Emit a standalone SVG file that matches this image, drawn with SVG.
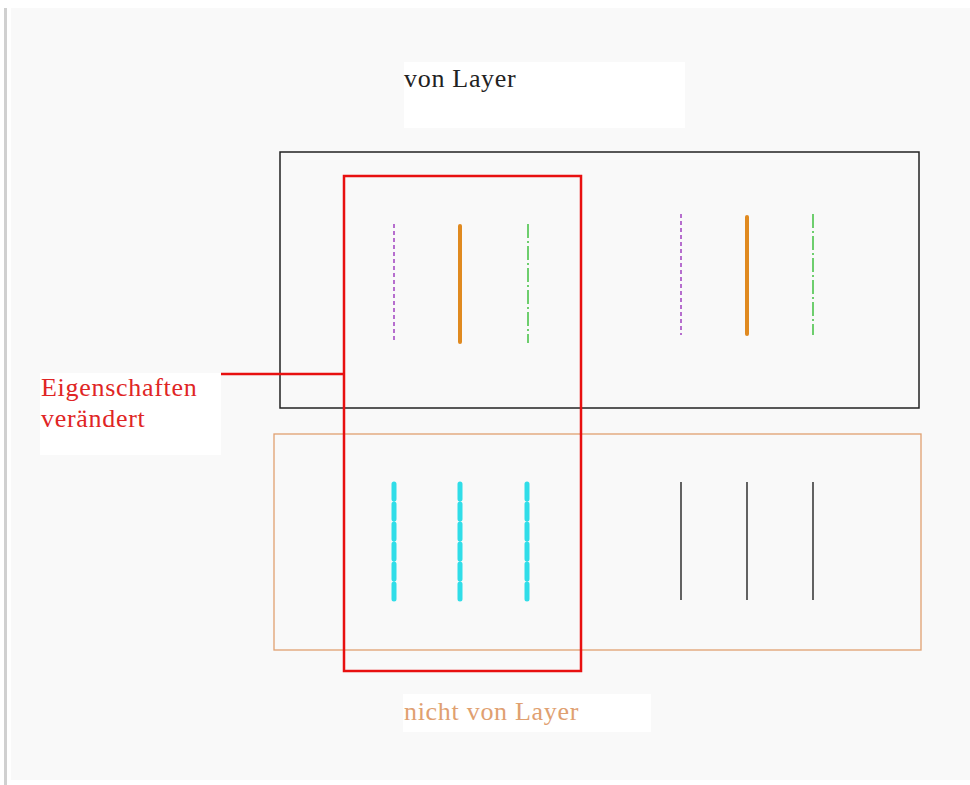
<svg xmlns="http://www.w3.org/2000/svg" width="970" height="785" viewBox="0 0 970 785">
<style>
text{font-family:"Liberation Serif","DejaVu Serif","Times New Roman",serif;font-size:26px;letter-spacing:0.7px}
.purple{stroke:#a040c0;stroke-width:1.5;stroke-dasharray:4 3;fill:none}
.orange{stroke:#e08a20;stroke-width:4;stroke-linecap:round;fill:none}
.green{stroke:#40c040;stroke-width:1.5;stroke-dasharray:14 3 2 3;fill:none}
.cyan{stroke:#30dde8;stroke-width:5;stroke-linecap:round;stroke-dasharray:15 5;fill:none}
.blk{stroke:#111;stroke-width:1.3;fill:none}
</style>
<rect x="0" y="0" width="970" height="785" fill="#ffffff"/>
<rect x="4" y="8" width="3" height="777" fill="#d0d0d0"/>
<rect x="11" y="8" width="959" height="772" fill="#f9f9f9"/>
<g id="frame-layer">
<rect x="280" y="152" width="639" height="256" fill="none" stroke="#222" stroke-width="1.5"/>
</g>
<g id="frame-nolayer">
<rect x="274" y="434" width="647" height="216" fill="none" stroke="#e0a070" stroke-width="1.3"/>
</g>
<g id="label-von">
<rect x="404" y="62" width="281" height="66" fill="#ffffff"/>
<text x="404" y="87" fill="#222">von Layer</text>
</g>
<g id="label-nicht">
<rect x="403" y="694" width="248" height="38" fill="#ffffff"/>
<text x="404" y="720" fill="#e0a070">nicht von Layer</text>
</g>
<g id="label-eigen">
<rect x="40" y="373" width="181" height="82" fill="#ffffff"/>
<text x="41" y="396" fill="#e02525">Eigenschaften</text>
<text x="41" y="427" fill="#e02525">verändert</text>
</g>
<g id="lines-top-left">
<line class="purple" x1="394" y1="224" x2="394" y2="343"/>
<line class="orange" x1="460" y1="226" x2="460" y2="342"/>
<line class="green" x1="528" y1="224" x2="528" y2="343"/>
</g>
<g id="lines-top-right">
<line class="purple" x1="681" y1="214" x2="681" y2="335"/>
<line class="orange" x1="747" y1="217" x2="747" y2="334"/>
<line class="green" x1="813" y1="214" x2="813" y2="335"/>
</g>
<g id="lines-bottom-left">
<line class="cyan" x1="394" y1="484" x2="394" y2="601"/>
<line class="cyan" x1="460" y1="484" x2="460" y2="601"/>
<line class="cyan" x1="527" y1="484" x2="527" y2="601"/>
</g>
<g id="lines-bottom-right">
<line class="blk" x1="681" y1="482" x2="681" y2="600"/>
<line class="blk" x1="747" y1="482" x2="747" y2="600"/>
<line class="blk" x1="813" y1="482" x2="813" y2="600"/>
</g>
<g id="connectors">
<rect x="344" y="176" width="237" height="495" fill="none" stroke="#e81010" stroke-width="2.5"/>
<line x1="221" y1="374" x2="344" y2="374" stroke="#e81010" stroke-width="2.5"/>
</g>
</svg>
